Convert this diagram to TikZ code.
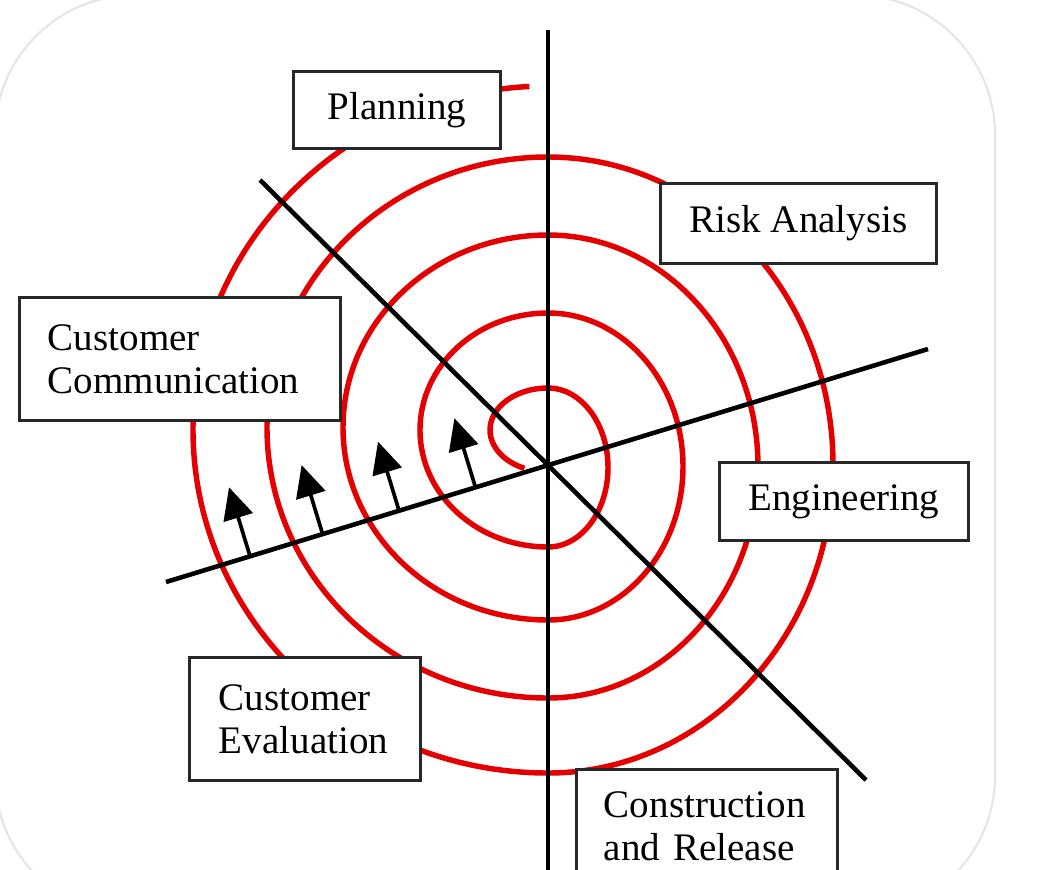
\documentclass[tikz,border=0pt]{standalone}
\usepackage{fontspec}
\setmainfont{Liberation Serif}
\usepackage{tikz}
\usetikzlibrary{arrows.meta, calc}
\definecolor{spiralred}{RGB}{228,0,0}
\definecolor{boxgray}{RGB}{40,40,40}

\begin{document}
\begin{tikzpicture}[x=0.01cm, y=0.01cm,
    stage/.style={draw=boxgray, line width=0.85pt, fill=white, inner sep=0pt,
        font=\fontsize{11.1}{12.3}\selectfont},
    phase/.style={stage, align=left, text width=#1}]
    \useasboundingbox (-548,-404) rectangle (498,465);
    \clip (-548,-404) rectangle (498,465);
    \draw [black!10, line width=0.6pt, rounded corners=1.4cm] (-553,470) rectangle (447,-451);

    \coordinate (O) at (0,0);
    \coordinate (V1) at (0,435);
    \coordinate (V2) at (0,-420);
    \coordinate (D1) at (-288,285);
    \coordinate (D2) at (318,-315);
    \coordinate (S1) at (-382,-117);
    \coordinate (S2) at (380,116);

    % spiral, half turns
    \draw [spiralred, line width=1.55pt] (0,35) ++(246:58 and 42)
        arc [start angle=246, end angle=90, x radius=58, y radius=42]
        arc [start angle=90, end angle=-90, x radius=60, y radius=79.5]
        arc [start angle=270, end angle=90, x radius=128, y radius=117]
        arc [start angle=90, end angle=-90, x radius=135, y radius=153.5]
        arc [start angle=270, end angle=90, x radius=205, y radius=192.5]
        arc [start angle=90, end angle=-90, x radius=210, y radius=231.5]
        arc [start angle=270, end angle=90, x radius=281, y radius=270.5]
        arc [start angle=90, end angle=-90, x radius=285, y radius=308]
        arc [start angle=270, end angle=93, x radius=355, y radius=343.5];

    \draw [line width=1.3pt] (V1) -- (V2);
    \draw [line width=1.3pt] (D1) -- (D2);
    \draw [line width=1.3pt] (S1) -- (S2);
    \foreach \f in {0.19, 0.39, 0.59, 0.78}
        \draw [-{Triangle[width=8.5pt, length=9pt]}, line width=1.05pt] ($(O)!\f!(S1)$) -- ++(-21,69);

    \node [stage, minimum width=2.06cm, minimum height=0.76cm] (planning) at (-151,355) {Planning};
    \node [stage, minimum width=2.75cm, minimum height=0.79cm] (risk) at (250.5,241.5) {Risk Analysis};
    \node [phase=2.64cm, inner xsep=0.28cm, minimum height=1.22cm] (communication) at (-368,106) {Customer\\Communication};
    \node [stage, minimum width=2.48cm, minimum height=0.77cm] (engineering) at (296,-36.5) {Engineering};
    \node [phase=1.72cm, inner xsep=0.29cm, minimum height=1.22cm] (evaluation) at (-243,-254) {Customer\\Evaluation};
    \node [phase=2.06cm, inner xsep=0.27cm, minimum height=1.13cm, anchor=north] (release) at (159,-303) {Construction\\and Release};
\end{tikzpicture}
\end{document}
